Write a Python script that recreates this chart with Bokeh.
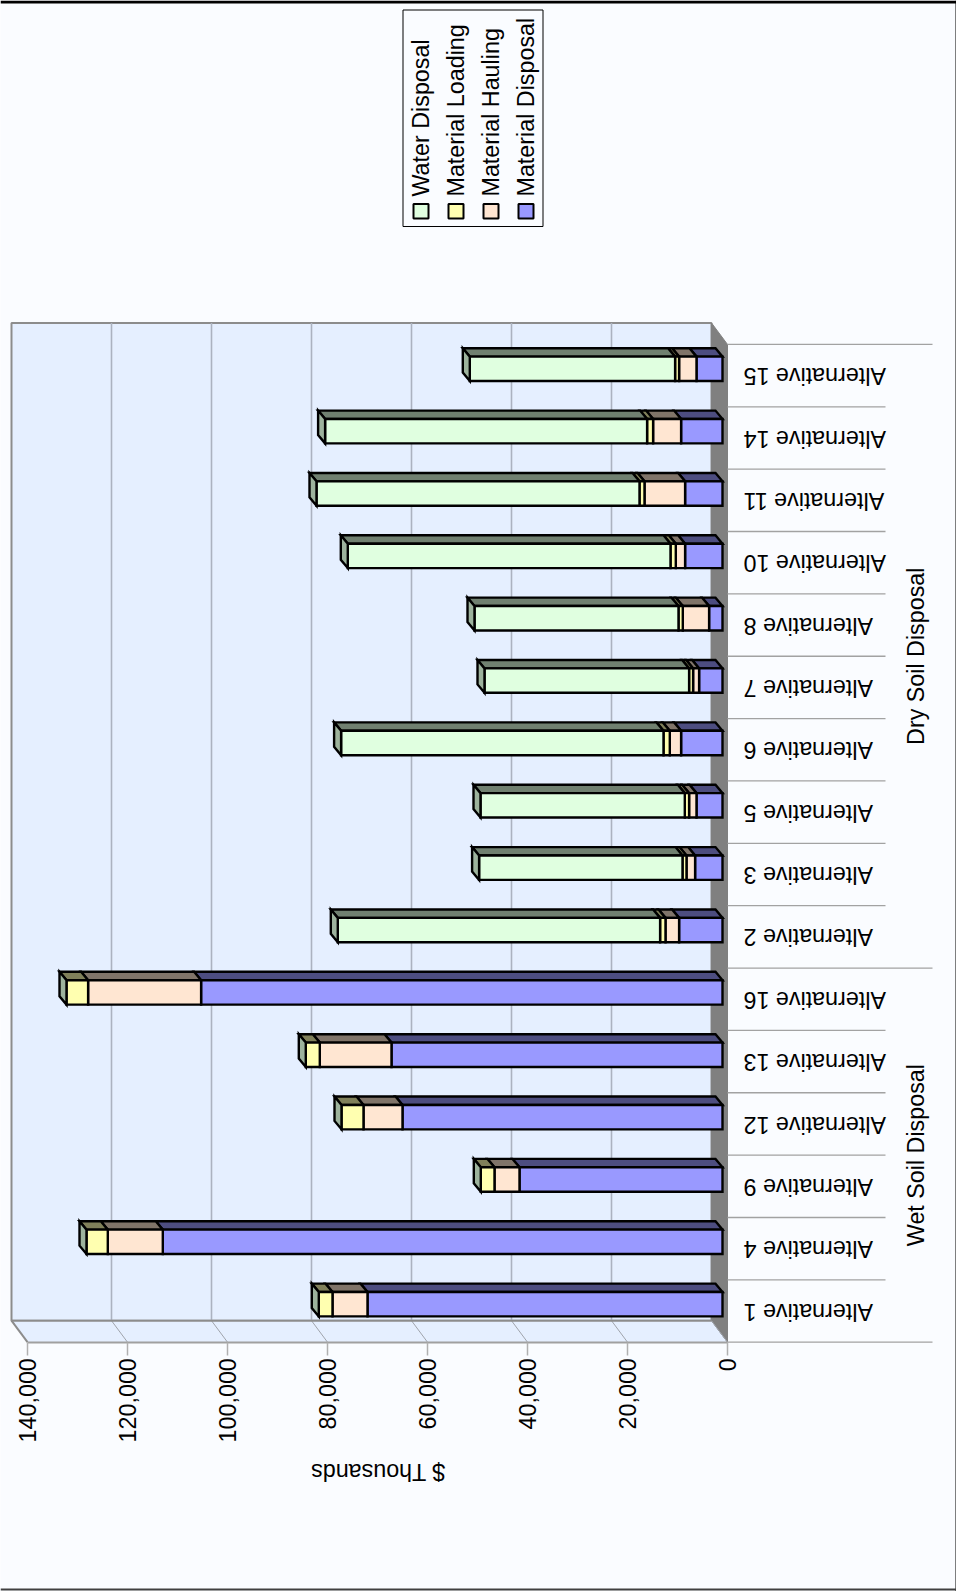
from math import pi

from bokeh.core.properties import value
from bokeh.embed import file_html
from bokeh.models import ColumnDataSource, FixedTicker, LinearAxis, NumeralTickFormatter, Range1d
from bokeh.plotting import figure
from bokeh.resources import INLINE

# Cost alternatives, listed from the bottom of the chart upward ($ thousands).
categories = ["Alternative 1", "Alternative 4", "Alternative 9", "Alternative 12",
              "Alternative 13", "Alternative 16", "Alternative 2", "Alternative 3",
              "Alternative 5", "Alternative 6", "Alternative 7", "Alternative 8",
              "Alternative 10", "Alternative 11", "Alternative 14", "Alternative 15"]
material_disposal = [71000, 111940, 40600, 64000, 66200, 104280, 8680, 5480,
                     5200, 8280, 4680, 2680, 7480, 7480, 8280, 5200]
material_hauling = [7000, 11000, 5000, 7800, 14340, 22600, 2720, 1720,
                    1480, 2260, 1200, 5260, 1860, 8120, 5600, 3480]
material_loading = [2740, 4260, 2740, 4400, 2800, 4320, 1080, 800,
                    860, 1260, 800, 860, 1060, 1000, 1200, 800]
water_disposal = [0, 0, 0, 0, 0, 0, 64460, 40680,
                  40860, 64480, 40920, 40800, 64540, 64600, 64400, 41060]

series_names = ["Water Disposal", "Material Loading", "Material Hauling", "Material Disposal"]
value_ticks = [0, 20000, 40000, 60000, 80000, 100000, 120000, 140000]
axis_title = "$ Thousands"
group_labels = ["Wet Soil Disposal", "Dry Soil Disposal"]
group_sizes = [6, 10]

# Stack order runs outward from the zero line.
stack = [
    (material_disposal, "#9999FF", "#4D4D80"),
    (material_hauling, "#FFE6D2", "#807469"),
    (material_loading, "#FFFFB0", "#80805A"),
    (water_disposal, "#E0FFE0", "#708070"),
]
END_CAP = "#9DB39D"
PAGE = "#FAFCFF"
WALL = "#E5EFFF"
FONT = value("Liberation Sans")
TEXT_SIZE = "23.3px"
BAR_STROKE = 2.4

PX_PER_VALUE = 0.005
PX_PER_BAND = 62.36
ZERO_PX = 727.0
BASE_PX = 1341.7


def vx(px):
    """Page x position expressed in value units (the axis runs right to left)."""
    return (ZERO_PX - px) / PX_PER_VALUE


def by(py):
    """Page y position expressed in category-band units."""
    return (BASE_PX - py) / PX_PER_BAND


p = figure(width=956, height=1591, output_backend="svg", toolbar_location=None,
           x_range=Range1d(vx(0), vx(956)), y_range=Range1d(by(1591), by(0)),
           x_axis_type=None, y_axis_type=None, min_border=0,
           background_fill_color=PAGE, border_fill_color=PAGE, outline_line_color=None)

n = len(categories)
# Offsets of the receding chart box and of the bars inside it.
wall_dx = 16 / PX_PER_VALUE
wall_dy = 21.5 / PX_PER_BAND
top = float(n)
max_tick = value_ticks[-1]

# Rear wall, receding strip under it, and the dark side strip at the zero line.
p.patch([max_tick + wall_dx, wall_dx, wall_dx, max_tick + wall_dx],
        [wall_dy, wall_dy, top + wall_dy, top + wall_dy],
        fill_color=WALL, line_color="#8C8C8C", line_width=2)
p.patch([max_tick + wall_dx, max_tick, 0, wall_dx],
        [wall_dy, 0, 0, wall_dy], fill_color=WALL, line_color=None)
p.patch([wall_dx, 0, 0, wall_dx], [wall_dy, 0, top, top + wall_dy],
        fill_color="#808080", line_color="#808080", line_width=1)

# Gridlines on the rear wall and their continuation across the strip.
inner = value_ticks[1:-1]
p.segment([t + wall_dx for t in inner], [wall_dy] * len(inner),
          [t + wall_dx for t in inner], [top + wall_dy] * len(inner),
          line_color="#ABB2C0", line_width=1.6)
p.segment([t + wall_dx for t in value_ticks], [wall_dy] * len(value_ticks),
          value_ticks, [0] * len(value_ticks), line_color="#A0A4AC", line_width=1)
p.segment([max_tick + wall_dx], [wall_dy], [max_tick], [0], line_color="#8C8C8C", line_width=2)
p.line([max_tick + wall_dx, wall_dx], [wall_dy, wall_dy], line_color="#8C8C8C", line_width=2)

# Bars: front, top and end faces of each stacked segment.
front_x, front_y, front_c = [], [], []
top_x, top_y, top_c = [], [], []
cap_x, cap_y = [], []
front_off = 1000
back_off = 2400
half = 12.2 / PX_PER_BAND
front_dy = 6.8 / PX_PER_BAND
back_dy = 15.2 / PX_PER_BAND

for i in range(n):
    mid = i + 0.5
    low = 0
    for values, face, shade in stack:
        high = low + values[i]
        if values[i] > 0:
            a, b = low + front_off, high + front_off
            c, d = low + back_off, high + back_off
            yb, yt = mid + front_dy - half, mid + front_dy + half
            yk = mid + back_dy + half
            top_x.append([a, b, d, c])
            top_y.append([yt, yt, yk, yk])
            top_c.append(shade)
            front_x.append([a, b, b, a])
            front_y.append([yb, yb, yt, yt])
            front_c.append(face)
        low = high
    e, f = low + front_off, low + back_off
    yb, yt = mid + front_dy - half, mid + front_dy + half
    cap_x.append([e, f, f, e])
    cap_y.append([yb, yb + back_dy - front_dy, yt + back_dy - front_dy, yt])

p.patches("xs", "ys", source=ColumnDataSource(dict(xs=top_x, ys=top_y, color=top_c)),
          fill_color="color", line_color="black", line_width=BAR_STROKE, line_join="miter")
p.patches("xs", "ys", source=ColumnDataSource(dict(xs=front_x, ys=front_y, color=front_c)),
          fill_color="color", line_color="black", line_width=BAR_STROKE, line_join="miter")
p.patches("xs", "ys", source=ColumnDataSource(dict(xs=cap_x, ys=cap_y)),
          fill_color=END_CAP, line_color="black", line_width=BAR_STROKE, line_join="miter")

# Value axis along the front edge of the strip.
axis = LinearAxis(fixed_location=0, ticker=FixedTicker(ticks=value_ticks),
                  formatter=NumeralTickFormatter(format="0,0"),
                  bounds=(0, max_tick),
                  major_label_orientation=pi / 2, major_label_standoff=3,
                  major_label_text_font="Liberation Sans", major_label_text_font_size=TEXT_SIZE,
                  major_label_text_color="black",
                  axis_line_color="#A0A0A0", axis_line_width=2,
                  major_tick_line_color="#B0B0B0", major_tick_line_width=1.5,
                  major_tick_in=0, major_tick_out=13, minor_tick_line_color=None)
p.add_layout(axis, "below")

# Category separators: longer where a group of alternatives begins or ends.
group_edges = {0, n}
edge = 0
for size in group_sizes:
    edge += size
    group_edges.add(edge)
short_end, long_end = vx(885), vx(932)
p.segment([0] * (n + 1), list(range(n + 1)),
          [long_end if k in group_edges else short_end for k in range(n + 1)],
          list(range(n + 1)), line_color="#A2A2A2", line_width=1.3)

# Category labels read upside down, ending near the zero line.
label_nudge = 0.6 / PX_PER_BAND
p.text([vx(743)] * n, [i + 0.5 - label_nudge for i in range(n)], text=categories, angle=pi,
       text_font=FONT, text_font_size=TEXT_SIZE, text_align="right",
       text_baseline="middle", text_color="black")

# Group labels, centred on their run of alternatives.
group_mid, start = [], 0
for size in group_sizes:
    group_mid.append(start + size / 2)
    start += size
p.text([vx(915)] * len(group_labels), group_mid, text=group_labels, angle=pi / 2,
       text_font=FONT, text_font_size=TEXT_SIZE, text_align="center",
       text_baseline="middle", text_color="black")

p.text([vx(377.5)], [by(1471)], text=[axis_title], angle=pi,
       text_font=FONT, text_font_size=TEXT_SIZE, text_align="center",
       text_baseline="middle", text_color="black")

# Legend box with its swatches and rotated entries.
p.patch([vx(402.5), vx(542.5), vx(542.5), vx(402.5)], [by(226), by(226), by(9.5), by(9.5)],
        fill_color=PAGE, line_color="black", line_width=1)
legend_rows = [420.5, 455.5, 490.5, 525.5]
legend_faces = ["#E0FFE0", "#FFFFB0", "#FFE6D2", "#9999FF"]
p.quad(left=[vx(r + 7.5) for r in legend_rows], right=[vx(r - 7.5) for r in legend_rows],
       bottom=[by(218)] * 4, top=[by(203.5)] * 4, fill_color=legend_faces,
       line_color="black", line_width=2)
p.text([vx(r) for r in legend_rows], [by(196)] * 4, text=series_names, angle=pi / 2,
       text_font=FONT, text_font_size=TEXT_SIZE, text_align="left",
       text_baseline="middle", text_color="black")

# Page frame lines.
p.quad(left=[vx(956), vx(955)], right=[vx(0), vx(956)], bottom=[by(3), by(1591)],
       top=[by(0), by(0)], fill_color="black", line_color=None)
p.quad(left=[vx(956)], right=[vx(0)], bottom=[by(1590)], top=[by(1588)],
       fill_color="#404040", line_color=None)

open("out.html", "w").write(file_html(p, INLINE))
